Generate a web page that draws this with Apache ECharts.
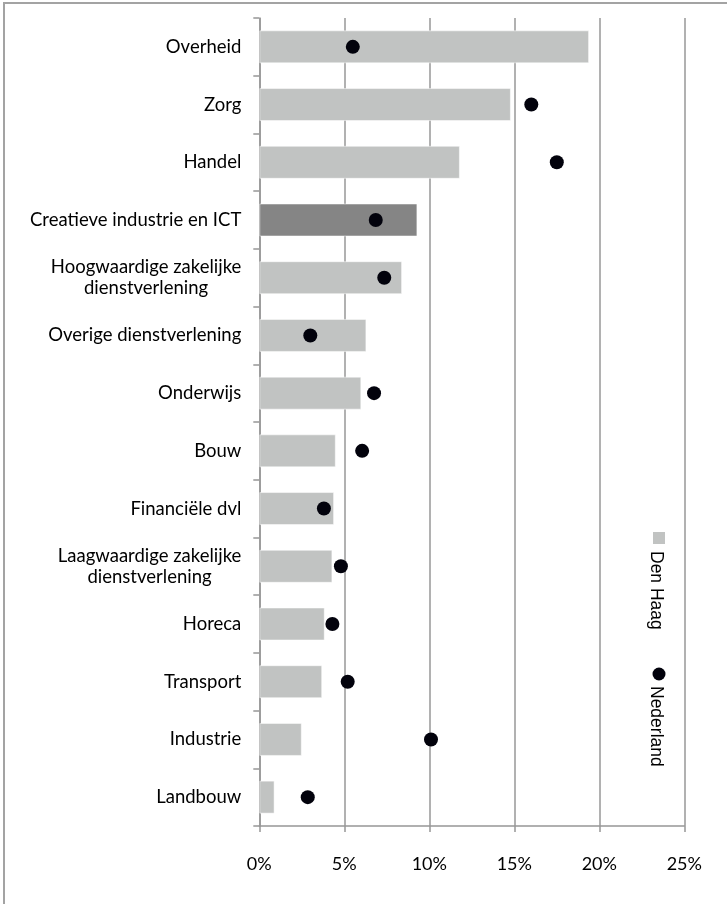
<!DOCTYPE html>
<html>
<head>
<meta charset="utf-8">
<script src="https://cdn.jsdelivr.net/npm/echarts@6/dist/echarts.min.js"></script>
<style>
html,body{margin:0;padding:0;background:#fff;}
#chart{width:727px;height:904px;}
</style>
</head>
<body>
<div id="chart"></div>
<script>
const categories = [
  "Overheid",
  "Zorg",
  "Handel",
  "Creatieve industrie en ICT",
  "Hoogwaardige zakelijke\ndienstverlening",
  "Overige dienstverlening",
  "Onderwijs",
  "Bouw",
  "Financiële dvl",
  "Laagwaardige zakelijke\ndienstverlening",
  "Horeca",
  "Transport",
  "Industrie",
  "Landbouw"
];
const denHaag = [19.4, 14.8, 11.8, 9.3, 8.4, 6.3, 6.0, 4.5, 4.4, 4.3, 3.85, 3.7, 2.5, 0.9];
const nederland = [5.5, 16.0, 17.5, 6.85, 7.35, 3.0, 6.75, 6.05, 3.8, 4.8, 4.3, 5.2, 10.1, 2.85];
const xTicks = { min: 0, max: 25, interval: 5 };
const highlighted = "Creatieve industrie en ICT";
const legendNames = ["Den Haag", "Nederland"];

const chart = echarts.init(document.getElementById('chart'), null, { renderer: 'canvas' });
const gridColor = '#979797';
const labelFont = 'Lato, "Open Sans", sans-serif';

chart.setOption({
  animation: false,
  backgroundColor: '#fff',
  grid: { left: 259.3, right: 42.7, top: 18, bottom: 78, containLabel: false },
  xAxis: {
    type: 'value',
    min: xTicks.min, max: xTicks.max, interval: xTicks.interval,
    axisLine: { show: true, lineStyle: { color: gridColor, width: 1.5 } },
    axisTick: { show: true, length: 6, lineStyle: { color: gridColor, width: 1.5 } },
    splitLine: { show: true, lineStyle: { color: gridColor, width: 1.5 } },
    axisLabel: { formatter: '{value}%', color: '#000', fontSize: 18, fontFamily: labelFont, margin: 29 }
  },
  yAxis: {
    type: 'category',
    inverse: true,
    data: categories,
    axisLine: { show: true, lineStyle: { color: gridColor, width: 1.5 } },
    axisTick: { show: true, length: 6, alignWithLabel: false, lineStyle: { color: gridColor, width: 1.5 } },
    axisLabel: {
      color: '#000', fontSize: 18.5, fontFamily: labelFont, margin: 18, align: 'right', lineHeight: 21,
      formatter: function (v) {
        return v.split('\n').map(s => '{c|' + s + '}').join('\n');
      },
      rich: { c: { align: 'center', fontSize: 18.5, fontFamily: labelFont, color: '#000', lineHeight: 21 } }
    },
    splitLine: { show: false }
  },
  series: [
    {
      name: legendNames[0],
      type: 'bar',
      barWidth: 33,
      data: denHaag.map((v, i) => ({
        value: v,
        itemStyle: { color: categories[i] === highlighted ? '#858585' : '#c1c3c2' }
      })),
      itemStyle: { borderColor: 'rgba(255,255,255,0.5)', borderWidth: 1 },
      z: 2
    },
    {
      name: legendNames[1],
      type: 'scatter',
      symbol: 'circle',
      symbolSize: 14,
      data: nederland.map((v, i) => [v, categories[i]]),
      itemStyle: { color: '#02020c', opacity: 1 },
      z: 3
    }
  ],
  graphic: [
    { type: 'rect', silent: true, shape: { x: 4, y: 3, width: 760, height: 960 },
      style: { fill: 'none', stroke: '#a3a3a3', lineWidth: 2 } },
    { type: 'rect', shape: { x: 653, y: 532, width: 12, height: 12 }, style: { fill: '#c1c3c2' } },
    { type: 'text', x: 656, y: 551, rotation: -Math.PI / 2,
      style: { text: legendNames[0], font: '17.5px "Liberation Sans", Arial, sans-serif', fill: '#000',
               textAlign: 'left', textVerticalAlign: 'middle' } },
    { type: 'circle', shape: { cx: 659, cy: 674, r: 6.5 }, style: { fill: '#02020c' } },
    { type: 'text', x: 656, y: 686, rotation: -Math.PI / 2,
      style: { text: legendNames[1], font: '17.5px "Liberation Sans", Arial, sans-serif', fill: '#000',
               textAlign: 'left', textVerticalAlign: 'middle' } }
  ]
});
</script>
</body>
</html>
